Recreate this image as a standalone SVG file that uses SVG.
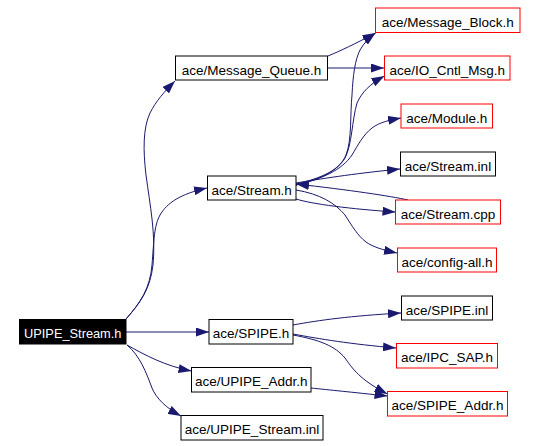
<svg xmlns="http://www.w3.org/2000/svg" width="536" height="446" viewBox="0 0 536 446">
<defs>
<style>
.n rect{fill:#fff;stroke:#000;stroke-width:1}
.r rect{stroke:#ff0000}
.n text{font-family:"Liberation Sans",Arial,Helvetica,sans-serif;font-size:13.5px;fill:#000;text-anchor:middle}
#UPIPE_Stream_h rect{fill:#000;stroke:#000}
#UPIPE_Stream_h text{fill:#fff;font-size:12.8px}
.e path{fill:none;stroke:#191970;stroke-width:1;marker-end:url(#ah)}
</style>
<marker id="ah" markerWidth="13" markerHeight="9" refX="13" refY="4.5" orient="auto" markerUnits="userSpaceOnUse">
<path d="M0,0 L13,4.5 L0,9 z" fill="#191970"/>
</marker>
</defs>
<rect width="536" height="446" fill="#fff"/>
<g id="edges" class="e">
<path d="M126,319 C140,303 150,290 153,265 C156,235 150,205 146,175 C143,150 143,128 150,113 C156,101 164,92 175,81"/>
<path d="M126,319 C141,302 150,288 152,265 C154,240 154,226 160,215 C167,203 180,194 207,188"/>
<path d="M126,332 L209,332"/>
<path d="M127,345 C145,355 165,366 191.5,371"/>
<path d="M127,345 C140,356 146,372 152,388 C156,398 166,408 181,416"/>
<path d="M328,56 C340,51 355,44 375.5,33"/>
<path d="M328,68 L384,68"/>
<path d="M296,184 C322,178 340,170 346,155 C352,140 350,115 352,95 C353,75 355,60 360,50 C364,43 369,38 375.5,33"/>
<path d="M296,185 C322,179 338,170 345,158 C352,145 352,120 357,103 C362,92 370,84 384.5,76"/>
<path d="M296,185 C322,179 342,170 352,155 C358,145 363,135 372,128 C380,122 390,120 401,118"/>
<path d="M296,183 C320,179 350,174 400,169"/>
<path d="M408,200 C390,196 350,190 296,184"/>
<path d="M296,199 C312,204 350,209 395.5,212"/>
<path d="M296,190 C320,194 335,203 345,215 C352,226 358,236 366,242 C373,247 383,250 397,253"/>
<path d="M293,325 C320,320 350,316 401,313"/>
<path d="M293,334 C320,339 350,344 396,348"/>
<path d="M293,335 C320,340 335,346 345,358 C352,368 360,380 387.5,394"/>
<path d="M311,388 C330,390 350,392 387.5,396"/>
</g>
<g id="UPIPE_Stream_h" class="n"><rect x="19.5" y="319.5" width="106.5" height="24.5"/><text x="72.75" y="338">UPIPE_Stream.h</text></g>
<g id="Message_Queue_h" class="n"><rect x="175.5" y="56" width="152" height="24"/><text x="251.5" y="74.5">ace/Message_Queue.h</text></g>
<g id="Stream_h" class="n"><rect x="207.5" y="176" width="88.5" height="24"/><text x="251.75" y="194.5">ace/Stream.h</text></g>
<g id="SPIPE_h" class="n"><rect x="209" y="319.5" width="84" height="24.5"/><text x="251" y="338">ace/SPIPE.h</text></g>
<g id="UPIPE_Addr_h" class="n"><rect x="191.5" y="367.5" width="119.5" height="24.5"/><text x="251.25" y="386">ace/UPIPE_Addr.h</text></g>
<g id="UPIPE_Stream_inl" class="n"><rect x="181" y="415.5" width="142" height="24.5"/><text x="252" y="434">ace/UPIPE_Stream.inl</text></g>
<g id="Message_Block_h" class="n r"><rect x="375.5" y="8" width="144.5" height="24.5"/><text x="447.75" y="27">ace/Message_Block.h</text></g>
<g id="IO_Cntl_Msg_h" class="n r"><rect x="384.5" y="56" width="125.5" height="24"/><text x="447.25" y="74.5">ace/IO_Cntl_Msg.h</text></g>
<g id="Module_h" class="n r"><rect x="401" y="104" width="91.5" height="24"/><text x="446.75" y="122.5">ace/Module.h</text></g>
<g id="Stream_inl" class="n"><rect x="400.5" y="152" width="95" height="24"/><text x="448" y="170.5">ace/Stream.inl</text></g>
<g id="Stream_cpp" class="n r"><rect x="395.5" y="200" width="105" height="24"/><text x="448" y="218.5">ace/Stream.cpp</text></g>
<g id="config_all_h" class="n r"><rect x="397.5" y="248" width="99" height="24"/><text x="447" y="266.5">ace/config-all.h</text></g>
<g id="SPIPE_inl" class="n"><rect x="401.5" y="296" width="91" height="24"/><text x="447" y="314.5">ace/SPIPE.inl</text></g>
<g id="IPC_SAP_h" class="n r"><rect x="396.5" y="343.5" width="101" height="24.5"/><text x="447" y="362">ace/IPC_SAP.h</text></g>
<g id="SPIPE_Addr_h" class="n r"><rect x="387.5" y="391.5" width="120" height="24.5"/><text x="447.5" y="410">ace/SPIPE_Addr.h</text></g>
</svg>
